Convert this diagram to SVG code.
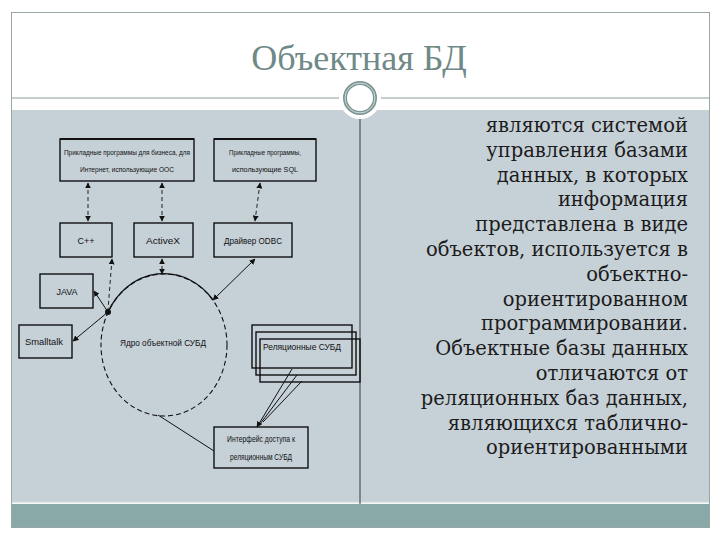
<svg xmlns="http://www.w3.org/2000/svg" width="720" height="540" viewBox="0 0 720 540">
<style>
.title{font-family:"Liberation Serif","DejaVu Serif",serif;font-size:36px;fill:#6f8987}
.desc{font-family:"DejaVu Serif","Liberation Serif",serif;font-size:19.5px;fill:#1c1c1c;text-anchor:end}
.box{fill:none;stroke:#111;stroke-width:1.4}
.lbl{font-family:"Liberation Sans","DejaVu Sans",sans-serif;font-size:9px;fill:#111;text-anchor:middle}
.sm{font-size:8px}
.dash{fill:none;stroke:#222;stroke-width:1;stroke-dasharray:4 3}
.solid{fill:none;stroke:#111;stroke-width:1}
</style>
<defs>
<marker id="ah" viewBox="0 0 10 10" refX="9" refY="5" markerWidth="6" markerHeight="6" markerUnits="userSpaceOnUse" orient="auto-start-reverse">
<path d="M0,0 L10,5 L0,10 z" fill="#111"/>
</marker>
</defs>
<rect x="0" y="0" width="720" height="540" fill="#ffffff"/>
<rect x="11.5" y="12.5" width="698" height="515" fill="#ffffff" stroke="#9aa6a6" stroke-width="1"/>
<rect x="12" y="110" width="697" height="392" fill="#c6d0d7"/>
<line x1="12" y1="502.5" x2="709" y2="502.5" stroke="#dfe6e8" stroke-width="1.5"/>
<rect x="12" y="504" width="697" height="23" fill="#89a9a8"/>
<line x1="12" y1="98" x2="709" y2="98" stroke="#8e9c9c" stroke-width="1.2"/>
<line x1="360" y1="118" x2="360" y2="504" stroke="#3a3a3a" stroke-width="1"/>
<g id="ornament">
<circle cx="360" cy="98" r="21" fill="#ffffff"/>
<circle cx="360" cy="98" r="15" fill="#ffffff" stroke="#7a9594" stroke-width="4"/>
<circle cx="360" cy="98" r="15" fill="none" stroke="#e8eeee" stroke-width="0.8"/>
</g>
<text class="title" x="359" y="70" text-anchor="middle">Объектная БД</text>
<g id="description">
<text class="desc" x="688" y="132">являются системой</text>
<text class="desc" x="688" y="157">управления базами</text>
<text class="desc" x="688" y="182">данных, в которых</text>
<text class="desc" x="688" y="206">информация</text>
<text class="desc" x="688" y="231">представлена в виде</text>
<text class="desc" x="688" y="256">объектов, используется в</text>
<text class="desc" x="688" y="281">объектно-</text>
<text class="desc" x="688" y="306">ориентированном</text>
<text class="desc" x="688" y="330">программировании.</text>
<text class="desc" x="688" y="355">Объектные базы данных</text>
<text class="desc" x="688" y="380">отличаются от</text>
<text class="desc" x="688" y="405">реляционных баз данных,</text>
<text class="desc" x="688" y="430">являющихся таблично-</text>
<text class="desc" x="688" y="454">ориентированными</text>
</g>
<g id="connectors">
<line class="dash" x1="88" y1="183" x2="88" y2="221" marker-start="url(#ah)" marker-end="url(#ah)"/>
<line class="dash" x1="162" y1="183" x2="162" y2="221" marker-start="url(#ah)" marker-end="url(#ah)"/>
<line class="dash" x1="260" y1="183" x2="255" y2="221" marker-start="url(#ah)" marker-end="url(#ah)"/>
<line class="dash" x1="112" y1="259" x2="108" y2="310" marker-start="url(#ah)"/>
<line class="dash" x1="162" y1="259" x2="162" y2="274" marker-start="url(#ah)" marker-end="url(#ah)"/>
<line class="solid" x1="213" y1="300" x2="255" y2="259" marker-start="url(#ah)" marker-end="url(#ah)"/>
<line class="solid" x1="108" y1="312" x2="94" y2="291" marker-end="url(#ah)"/>
<line class="solid" x1="108" y1="312" x2="73" y2="341" marker-end="url(#ah)"/>
<line class="solid" x1="158" y1="415" x2="214" y2="451"/>
<line class="solid" x1="292" y1="369" x2="257" y2="427" marker-end="url(#ah)"/>
<line class="solid" x1="297" y1="375" x2="260" y2="424"/>
<line class="solid" x1="302" y1="381" x2="263" y2="422"/>
<circle cx="108" cy="312" r="3" fill="#111"/>
</g>
<g id="node-apps-oo">
<rect class="box" x="60" y="139" width="134" height="42"/>
<line x1="60" y1="139" x2="194" y2="139" stroke="#111" stroke-width="2"/>
<text class="lbl sm" x="127" y="155" textLength="126" lengthAdjust="spacingAndGlyphs">Прикладные программы для бизнеса, для</text>
<text class="lbl sm" x="127" y="172" textLength="94" lengthAdjust="spacingAndGlyphs">Интернет, использующие ООС</text>
</g>
<g id="node-apps-sql">
<rect class="box" x="214" y="139" width="102" height="42"/>
<line x1="214" y1="139" x2="316" y2="139" stroke="#111" stroke-width="2"/>
<text class="lbl sm" x="265" y="155" textLength="72" lengthAdjust="spacingAndGlyphs">Прикладные программы,</text>
<text class="lbl sm" x="265" y="172" textLength="66" lengthAdjust="spacingAndGlyphs">использующие SQL</text>
</g>
<g id="node-cpp">
<rect class="box" x="60" y="223" width="52" height="34"/>
<text class="lbl" x="86" y="244">C++</text>
</g>
<g id="node-activex">
<rect class="box" x="134" y="223" width="59" height="34"/>
<text class="lbl" x="163" y="244" textLength="34" lengthAdjust="spacingAndGlyphs">ActiveX</text>
</g>
<g id="node-odbc">
<rect class="box" x="214" y="223" width="78" height="34"/>
<text class="lbl" x="253" y="244" textLength="58" lengthAdjust="spacingAndGlyphs">Драйвер ODBC</text>
</g>
<g id="node-java">
<rect class="box" x="40" y="274" width="53" height="34"/>
<text class="lbl" x="67" y="295">JAVA</text>
</g>
<g id="node-smalltalk">
<rect class="box" x="19" y="325" width="53" height="33"/>
<text class="lbl" x="44" y="345" textLength="38" lengthAdjust="spacingAndGlyphs">Smalltalk</text>
</g>
<g id="node-core">
<ellipse cx="164" cy="345" rx="63" ry="71" fill="none" stroke="#111" stroke-width="1.1" stroke-dasharray="5 3"/>
<path d="M108,312 A63,71 0 0 1 213,300" fill="none" stroke="#111" stroke-width="1.3"/>
<text class="lbl" x="163" y="346" textLength="86" lengthAdjust="spacingAndGlyphs">Ядро объектной СУБД</text>
</g>
<g id="node-relational">
<rect class="box" x="260" y="339" width="100" height="43" fill="#c6d0d7"/>
<rect class="box" x="256" y="332" width="100" height="43" fill="#c6d0d7"/>
<rect class="box" x="252" y="325" width="100" height="43" fill="#c6d0d7"/>
<text class="lbl" x="302" y="350" textLength="78" lengthAdjust="spacingAndGlyphs">Реляционные СУБД</text>
</g>
<g id="node-interface">
<rect class="box" x="214" y="427" width="94" height="41"/>
<text class="lbl" x="261" y="442" textLength="68" lengthAdjust="spacingAndGlyphs">Интерфейс доступа к</text>
<text class="lbl" x="261" y="460" textLength="62" lengthAdjust="spacingAndGlyphs">реляционным СУБД</text>
</g>
</svg>
